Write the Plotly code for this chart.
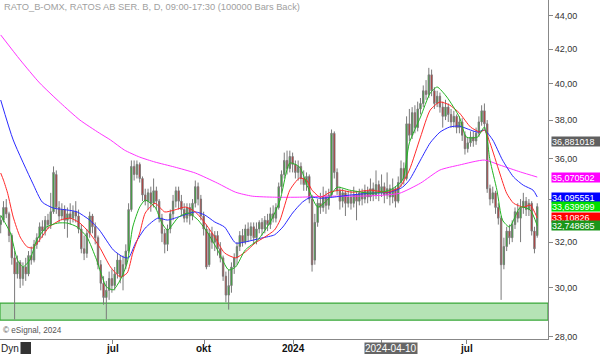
import math
import plotly.graph_objects as go

# ---------------- data ----------------
bar_index = list(range(0, 387, 2))  # one candle per two trading-day slots

opens = [32.8, 33.0, 33.6, 33.3, 32.3, 31.3, 30.6, 31.1, 30.4, 30.9,
         30.6, 31.4, 31.2, 31.9, 32.2, 32.7, 32.5, 33.0, 32.8, 33.4,
         35.2, 33.6, 33.2, 33.5, 33.0, 33.3, 33.1, 33.4, 33.2, 32.6,
         31.7, 31.5, 32.4, 33.2, 32.7, 32.2, 31.0, 30.2, 29.6, 29.9,
         30.4, 30.1, 30.6, 31.2, 30.5, 31.0, 31.6, 33.5, 35.6, 35.2,
         35.7, 35.0, 34.2, 33.9, 34.3, 33.8, 34.4, 33.9, 33.1, 32.4,
         31.9, 32.6, 33.3, 33.9, 34.4, 33.9, 33.5, 33.1, 33.6, 33.2,
         33.8, 34.6, 34.0, 33.2, 32.6, 31.0, 32.4, 32.0, 32.3, 31.7,
         31.3, 30.5, 29.7, 30.1, 30.9, 31.3, 31.8, 32.3, 32.0, 32.6,
         32.3, 32.7, 32.2, 32.6, 32.9, 32.6, 33.0, 32.8, 33.3, 33.1,
         33.6, 34.6, 35.2, 35.9, 35.5, 36.1, 35.7, 35.3, 35.6, 35.0,
         34.7, 35.1, 34.0, 31.2, 32.9, 33.8, 33.6, 34.1, 33.7, 34.2,
         37.3, 35.3, 34.4, 33.9, 34.3, 33.8, 34.1, 33.8, 34.2, 33.9,
         34.3, 34.0, 34.4, 34.1, 34.5, 34.2, 34.7, 34.3, 34.6, 34.2,
         34.5, 34.1, 34.5, 33.9, 34.8, 35.5, 35.0, 37.8, 37.2, 38.4,
         37.6, 38.6, 38.9, 39.6, 39.4, 40.5, 39.6, 38.9, 39.3, 38.7,
         38.2, 38.7, 38.3, 37.9, 38.2, 37.6, 37.9, 37.2, 36.5, 36.8,
         37.1, 36.9, 37.3, 37.9, 38.5, 37.8, 34.5, 34.0, 34.3, 33.6,
         33.1, 31.0, 31.8, 32.5, 32.2, 32.8, 33.4, 33.1, 33.6, 33.9,
         33.5, 33.8, 32.5, 32.3]
highs = [33.2, 33.9, 34.0, 33.4, 32.4, 31.6, 31.4, 31.2, 31.1, 31.3,
         31.6, 31.8, 32.1, 32.4, 32.9, 33.0, 33.2, 33.3, 34.3, 35.6,
         35.4, 33.9, 33.8, 33.7, 33.6, 33.8, 33.7, 33.9, 33.5, 32.8,
         32.3, 32.6, 33.4, 33.3, 32.9, 32.3, 31.2, 30.5, 30.3, 30.7,
         30.8, 30.9, 31.5, 31.4, 31.4, 31.9, 33.8, 35.9, 35.9, 35.9,
         35.8, 35.1, 34.5, 34.5, 34.6, 35.0, 34.6, 34.0, 33.3, 32.6,
         32.8, 33.5, 34.2, 34.6, 34.6, 34.2, 33.8, 33.8, 33.8, 34.0,
         34.9, 34.8, 34.2, 33.4, 32.8, 32.6, 32.7, 32.5, 32.5, 32.0,
         31.4, 30.7, 30.8, 31.1, 31.5, 32.0, 32.5, 32.6, 32.8, 32.9,
         32.9, 32.9, 32.9, 33.0, 33.1, 33.2, 33.3, 33.6, 33.7, 33.8,
         34.8, 35.4, 36.3, 36.4, 36.4, 36.3, 35.9, 35.9, 35.8, 35.4,
         35.3, 35.2, 34.2, 33.3, 34.0, 34.3, 34.6, 34.4, 34.5, 37.5,
         37.4, 35.5, 34.6, 34.5, 34.4, 34.4, 34.4, 34.6, 34.4, 34.5,
         34.5, 34.7, 34.6, 35.0, 34.8, 35.4, 34.9, 35.2, 34.8, 35.3,
         34.7, 35.0, 34.6, 35.1, 35.9, 35.8, 38.2, 38.6, 38.7, 38.8,
         39.0, 39.2, 39.9, 40.2, 40.9, 40.8, 39.8, 39.6, 39.5, 39.0,
         39.1, 38.9, 38.6, 38.5, 38.3, 38.2, 38.1, 37.4, 37.1, 37.4,
         37.4, 37.6, 38.2, 38.8, 38.9, 38.0, 34.7, 34.6, 34.4, 33.8,
         33.2, 32.2, 32.7, 32.8, 33.0, 33.6, 33.8, 34.0, 34.3, 34.1,
         34.0, 33.9, 32.7, 33.8]
lows = [32.4, 32.9, 33.1, 32.0, 31.0, 28.7, 30.4, 30.0, 30.1, 30.3,
        30.5, 31.0, 31.1, 31.7, 32.0, 32.2, 32.3, 32.6, 32.6, 33.3,
        33.3, 32.9, 33.0, 32.6, 32.2, 32.8, 32.9, 32.9, 32.4, 31.5,
        31.2, 31.3, 32.2, 32.4, 31.9, 30.8, 29.9, 29.3, 28.7, 29.5,
        29.8, 29.9, 30.4, 30.2, 29.9, 30.8, 31.5, 33.4, 34.9, 35.0,
        34.8, 33.9, 33.7, 33.5, 33.4, 33.6, 33.5, 32.9, 32.0, 31.5,
        31.6, 32.4, 33.0, 33.6, 33.5, 33.2, 32.9, 32.9, 32.8, 33.0,
        33.6, 33.7, 33.0, 32.3, 30.8, 30.9, 31.7, 31.6, 31.4, 31.1,
        30.3, 29.4, 29.1, 29.8, 30.6, 31.0, 31.6, 31.8, 31.9, 32.0,
        32.1, 31.9, 31.9, 32.4, 32.3, 32.4, 32.5, 32.6, 32.9, 32.9,
        33.5, 34.3, 35.0, 35.2, 35.3, 35.3, 35.0, 34.9, 34.7, 34.4,
        34.4, 33.8, 30.7, 31.0, 32.7, 33.3, 33.4, 33.3, 33.5, 34.1,
        35.0, 34.2, 33.5, 33.6, 33.2, 33.6, 33.5, 33.6, 33.0, 33.7,
        33.7, 33.8, 33.8, 33.9, 33.9, 34.0, 33.9, 34.1, 33.8, 34.0,
        33.7, 33.8, 33.6, 33.8, 34.6, 34.7, 34.9, 36.9, 37.0, 37.3,
        37.4, 38.3, 38.7, 39.1, 39.2, 39.3, 38.6, 38.7, 38.4, 37.6,
        38.0, 37.9, 37.6, 37.6, 37.3, 37.3, 36.9, 36.2, 36.3, 36.6,
        36.6, 36.7, 37.1, 37.7, 37.5, 34.3, 33.7, 33.8, 33.3, 32.8,
        29.5, 30.8, 31.6, 31.9, 32.0, 32.6, 32.9, 32.0, 33.3, 33.2,
        33.2, 32.3, 31.5, 32.2]
closes = [33.0, 33.6, 33.3, 32.3, 31.3, 30.6, 31.1, 30.4, 30.9, 30.6,
          31.4, 31.2, 31.9, 32.2, 32.7, 32.5, 33.0, 32.8, 33.4, 35.3,
          33.6, 33.2, 33.5, 33.0, 33.3, 33.1, 33.4, 33.2, 32.6, 31.7,
          31.5, 32.4, 33.2, 32.7, 32.2, 31.0, 30.2, 29.6, 29.9, 30.4,
          30.1, 30.6, 31.2, 30.5, 31.0, 31.6, 33.5, 35.6, 35.2, 35.7,
          35.0, 34.2, 33.9, 34.3, 33.8, 34.4, 33.9, 33.1, 32.4, 31.9,
          32.6, 33.3, 33.9, 34.4, 33.9, 33.5, 33.1, 33.6, 33.2, 33.8,
          34.6, 34.0, 33.2, 32.6, 30.9, 32.4, 32.0, 32.3, 31.7, 31.3,
          30.5, 29.7, 30.1, 30.9, 31.3, 31.8, 32.3, 32.0, 32.6, 32.3,
          32.7, 32.2, 32.6, 32.9, 32.6, 33.0, 32.8, 33.3, 33.1, 33.6,
          34.6, 35.2, 35.9, 35.5, 36.1, 35.7, 35.3, 35.6, 35.0, 34.7,
          35.1, 34.0, 31.0, 32.9, 33.8, 33.6, 34.1, 33.7, 34.2, 37.3,
          35.3, 34.4, 33.9, 34.3, 33.8, 34.1, 33.8, 34.2, 33.9, 34.3,
          34.0, 34.4, 34.1, 34.5, 34.2, 34.7, 34.3, 34.6, 34.2, 34.5,
          34.1, 34.5, 33.9, 34.8, 35.5, 35.0, 37.8, 37.2, 38.4, 37.6,
          38.6, 38.9, 39.6, 39.4, 40.5, 39.6, 38.9, 39.3, 38.7, 38.2,
          38.7, 38.3, 37.9, 38.2, 37.6, 37.9, 37.2, 36.5, 36.8, 37.1,
          36.9, 37.3, 37.9, 38.5, 37.8, 34.5, 34.0, 34.3, 33.6, 33.1,
          31.0, 31.8, 32.5, 32.2, 32.8, 33.4, 33.1, 33.6, 33.9, 33.5,
          33.8, 32.5, 31.7, 33.64]

# moving averages (sampled along the drawn curves)
ma200_index = [0, 14, 28, 43, 57, 71, 79, 89, 100, 111, 125, 140, 156, 169, 181,
               197, 215, 237, 258, 276, 287, 302, 316, 330, 348, 359, 374, 386]
ma200_values = [42.84, 41.36, 40.04, 38.93, 38.00, 37.31, 36.95, 36.43, 36.07, 35.82,
                35.57, 35.27, 34.77, 34.33, 34.14, 34.09, 34.09, 34.14, 34.14, 34.19,
                34.28, 34.77, 35.42, 35.67, 35.92, 35.67, 35.32, 35.07]

ma50_index = [0, 9, 23, 30, 38, 48, 55, 64, 71, 81, 88, 92, 97, 104, 113, 120, 130,
              140, 147, 154, 161, 169, 176, 188, 197, 203, 210, 217, 223, 230, 239,
              251, 266, 280, 289, 294, 302, 309, 316, 323, 330, 338, 343, 348, 354,
              361, 369, 376, 383, 386]
ma50_values = [39.09, 36.95, 34.77, 33.85, 33.57, 33.48, 33.39, 33.01, 32.55, 31.65,
               31.34, 31.30, 31.96, 32.64, 33.10, 33.01, 33.20, 33.39, 33.24, 32.92,
               32.69, 31.96, 32.01, 32.19, 32.33, 32.69, 33.34, 33.85, 34.09, 34.04,
               34.09, 34.19, 34.28, 34.33, 34.57, 34.92, 35.92, 36.80, 37.36, 37.63,
               37.68, 37.47, 37.36, 37.47, 36.95, 35.92, 35.07, 34.67, 34.43, 34.10]

ma20_index = [0, 2, 5, 9, 14, 19, 23, 28, 35, 43, 50, 57, 64, 71, 79, 86, 91, 95,
              100, 104, 111, 118, 125, 133, 140, 147, 154, 161, 169, 176, 183, 190,
              197, 201, 208, 215, 220, 224, 230, 237, 244, 253, 266, 278, 287, 294,
              302, 309, 316, 323, 330, 338, 345, 348, 352, 359, 364, 369, 376, 381, 386]
ma20_values = [35.27, 34.92, 34.28, 33.15, 32.23, 31.79, 31.74, 32.10, 32.69, 33.01,
               33.10, 32.87, 32.41, 31.79, 30.90, 30.47, 30.64, 31.52, 32.41, 33.34,
               33.80, 33.39, 33.48, 33.62, 33.39, 32.87, 32.23, 31.52, 31.30, 31.56,
               31.96, 32.23, 32.55, 33.01, 34.43, 35.02, 34.92, 34.43, 34.09, 34.33,
               34.43, 34.33, 34.43, 34.33, 34.57, 35.42, 37.10, 38.54, 38.98, 38.81,
               38.38, 37.63, 37.36, 37.47, 36.80, 35.27, 34.28, 33.80, 33.62, 33.71, 33.11]

ma10_index = [0, 2, 7, 12, 16, 21, 26, 33, 41, 48, 55, 62, 69, 76, 81, 86, 91, 95,
              100, 104, 111, 116, 120, 128, 135, 142, 149, 156, 164, 169, 176, 185,
              194, 201, 208, 215, 221, 228, 235, 242, 251, 266, 280, 289, 294, 302,
              309, 314, 321, 330, 335, 343, 348, 352, 357, 361, 366, 374, 381, 386]
ma10_values = [33.24, 33.01, 32.41, 31.21, 30.90, 31.21, 32.10, 32.69, 32.87, 32.87,
               32.69, 32.23, 31.21, 30.05, 29.92, 30.34, 31.08, 32.69, 33.62, 33.95,
               33.62, 32.87, 32.55, 33.15, 33.34, 33.01, 32.41, 31.65, 30.77, 30.90,
               31.65, 32.10, 32.92, 33.95, 35.77, 35.57, 34.57, 33.62, 33.95, 34.57,
               34.43, 34.28, 34.43, 34.92, 36.80, 38.16, 39.47, 39.81, 39.25, 38.16,
               37.10, 37.10, 37.63, 35.92, 34.43, 33.01, 32.69, 33.62, 33.48, 32.75]

# support band
band_low = 28.67
band_high = 29.37

# axis labels
x_tick_index = [80.1, 146.3, 210.5, 274.1, 335.3]
x_tick_text = ["jul", "okt", "2024", "", "jul"]
y_tick_vals = [28, 30, 32, 34, 36, 38, 40, 42, 44]
y_tick_text = ["28,00", "30,00", "32,00", "34,00", "36,00", "38,00", "40,00", "42,00", "44,00"]

# right-hand value markers
marker_values = [36.881018, 35.070502, 34.095551, 33.639999, 33.10826, 32.748685]
marker_labels = ["36,881018", "35,070502", "34,095551", "33,639999", "33,10826", "32,748685"]
marker_colors = ["#606060", "#ff00ff", "#0000ff", "#00e000", "#ff0000", "#1a961a"]

cursor_date = "2024-04-10"
cursor_index = 280.8

title_text = "RATO_B-OMX, RATOS AB SER. B, D, 09:00-17:30 (100000 Bars Back)"
copyright_text = "© eSignal, 2024"

# ---------------- figure ----------------
FONT = "Liberation Sans, Arial, sans-serif"
PLOT_H = 339.0
fig = go.Figure()

fig.add_trace(go.Candlestick(
    x=bar_index, open=opens, high=highs, low=lows, close=closes,
    increasing=dict(line=dict(color="#7a7a7a", width=1), fillcolor="#10c010"),
    decreasing=dict(line=dict(color="#7a7a7a", width=1), fillcolor="#e01010"),
    whiskerwidth=0, hoverinfo="skip", showlegend=False,
))

for idx, vals, col in [
    (ma200_index, ma200_values, "#ff33ff"),
    (ma50_index, ma50_values, "#2a2aff"),
    (ma20_index, ma20_values, "#ff2a2a"),
    (ma10_index, ma10_values, "#22b422"),
]:
    fig.add_trace(go.Scatter(x=idx, y=vals, mode="lines",
                             line=dict(color=col, width=1, shape="spline", smoothing=0.6),
                             hoverinfo="skip", showlegend=False))

# arrow tips of the value markers
fig.add_trace(go.Scatter(
    x=[395.6] * len(marker_values), y=marker_values, mode="markers",
    marker=dict(symbol="triangle-left", size=8, color=marker_colors, line=dict(width=0)),
    cliponaxis=False, hoverinfo="skip", showlegend=False,
))

fig.add_shape(type="rect", xref="paper", x0=0, x1=1, yref="y", y0=band_low, y1=band_high,
              fillcolor="#b5e3b5", line=dict(color="#3aa83a", width=1.2), layer="below")

annotations = []
for v, lab, col in zip(marker_values, marker_labels, marker_colors):
    annotations.append(dict(
        xref="paper", x=1, xanchor="left", xshift=3,
        yref="y", y=math.log10(v), yanchor="middle",
        text=lab, showarrow=False, bgcolor=col, borderpad=0,
        font=dict(family=FONT, size=9, color="white"), width=48, height=9,
        align="left", valign="middle",
    ))

annotations.append(dict(xref="paper", yref="paper", x=0.003, y=1 - 7 / PLOT_H, xanchor="left", yanchor="middle",
                        text=title_text, showarrow=False,
                        font=dict(family=FONT, size=9.3, color="#a0a0a0")))
annotations.append(dict(xref="paper", yref="paper", x=0.002, y=9 / PLOT_H, xanchor="left", yanchor="middle",
                        text=copyright_text, showarrow=False,
                        font=dict(family=FONT, size=8.2, color="#555555")))
# x-axis labels (drawn as text so they sit like the reference's)
for xi, tx in zip(x_tick_index, x_tick_text):
    if tx:
        annotations.append(dict(xref="x", yref="paper", x=xi, y=-9 / PLOT_H, xanchor="center", yanchor="middle",
                                text="<b>%s</b>" % tx, showarrow=False,
                                font=dict(family=FONT, size=10, color="#111111")))
annotations.append(dict(xref="x", yref="paper", x=cursor_index, y=-9 / PLOT_H, xanchor="center", yanchor="middle",
                        text=cursor_date, showarrow=False, bgcolor="#666666", borderpad=0,
                        font=dict(family=FONT, size=10, color="white")))
annotations.append(dict(xref="paper", yref="paper", x=0, y=-9 / PLOT_H, xanchor="left", yanchor="middle",
                        xshift=-1, text="Dyn", showarrow=False,
                        font=dict(family=FONT, size=10, color="#222222")))

fig.add_shape(type="rect", xref="paper", yref="paper", x0=20.5 / 548, x1=31 / 548,
              y0=-15 / PLOT_H, y1=-3 / PLOT_H, fillcolor="#333333", line=dict(width=0))

fig.update_layout(
    width=600, height=354,
    margin=dict(l=0, r=52, t=0, b=15),
    paper_bgcolor="white", plot_bgcolor="white",
    showlegend=False,
    annotations=annotations,
    xaxis=dict(
        range=[-0.504, 393.74], rangeslider=dict(visible=False),
        showgrid=False, zeroline=False,
        showline=True, linecolor="#888888", linewidth=1,
        tickmode="array", tickvals=x_tick_index, showticklabels=False,
        ticks="outside", ticklen=4, tickcolor="#888888",
        automargin=False, fixedrange=True,
    ),
    yaxis=dict(
        type="log", side="right",
        range=[math.log10(27.92), math.log10(45.0)],
        showgrid=False, zeroline=False,
        showline=True, linecolor="#888888", linewidth=1,
        tickmode="array", tickvals=y_tick_vals, ticktext=y_tick_text,
        ticks="outside", ticklen=4, tickcolor="#888888",
        tickfont=dict(family=FONT, size=9, color="#333333"),
        automargin=False, fixedrange=True,
    ),
)

fig.write_html("out.html")
